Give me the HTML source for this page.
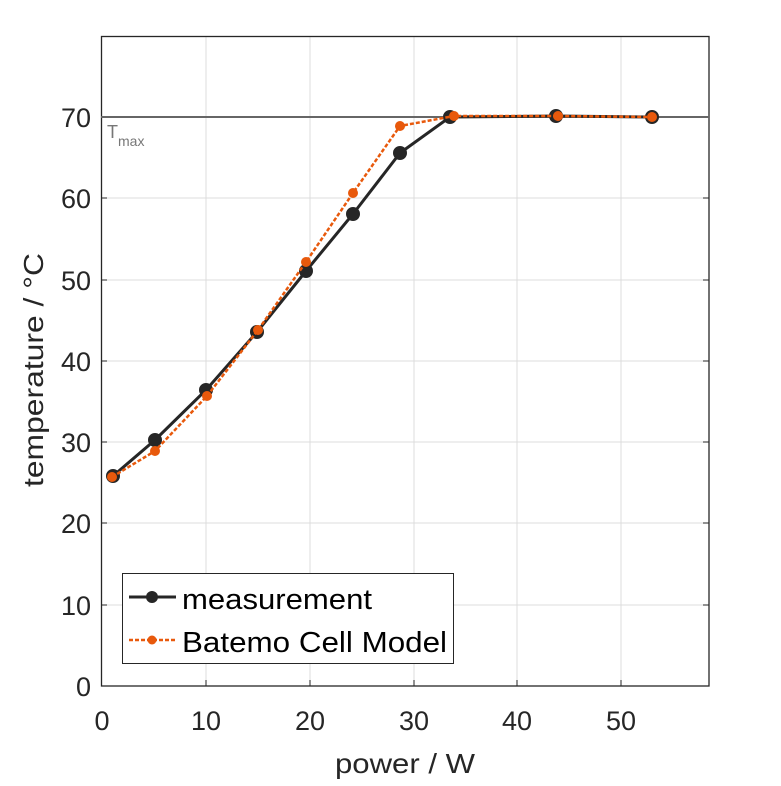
<!DOCTYPE html>
<html><head><style>html,body{margin:0;padding:0;background:#fff}</style></head>
<body>
<svg width="781" height="781" viewBox="0 0 781 781" xmlns="http://www.w3.org/2000/svg" font-family="'Liberation Sans', sans-serif">
<rect width="781" height="781" fill="#fff"/>
<g stroke="#dcdcdc" stroke-width="1">
<line x1="206" y1="36" x2="206" y2="686"/><line x1="310" y1="36" x2="310" y2="686"/>
<line x1="414" y1="36" x2="414" y2="686"/><line x1="517" y1="36" x2="517" y2="686"/>
<line x1="621" y1="36" x2="621" y2="686"/>
<line x1="101" y1="605" x2="709" y2="605"/><line x1="101" y1="523" x2="709" y2="523"/>
<line x1="101" y1="442" x2="709" y2="442"/><line x1="101" y1="361" x2="709" y2="361"/>
<line x1="101" y1="280" x2="709" y2="280"/><line x1="101" y1="198" x2="709" y2="198"/>
<line x1="101" y1="117" x2="709" y2="117"/>
</g>
<rect x="101.5" y="36.5" width="607.5" height="649.5" fill="none" stroke="#262626" stroke-width="1.3"/>
<g stroke="#262626" stroke-width="1">
<line x1="206" y1="686" x2="206" y2="680"/><line x1="310" y1="686" x2="310" y2="680"/><line x1="414" y1="686" x2="414" y2="680"/><line x1="517" y1="686" x2="517" y2="680"/><line x1="621" y1="686" x2="621" y2="680"/>
<line x1="101" y1="605" x2="107" y2="605"/><line x1="101" y1="523" x2="107" y2="523"/><line x1="101" y1="442" x2="107" y2="442"/><line x1="101" y1="361" x2="107" y2="361"/><line x1="101" y1="280" x2="107" y2="280"/><line x1="101" y1="198" x2="107" y2="198"/>
<line x1="709" y1="605" x2="703" y2="605"/><line x1="709" y1="523" x2="703" y2="523"/><line x1="709" y1="442" x2="703" y2="442"/><line x1="709" y1="361" x2="703" y2="361"/><line x1="709" y1="280" x2="703" y2="280"/><line x1="709" y1="198" x2="703" y2="198"/>
</g>
<line x1="101" y1="117" x2="709" y2="117" stroke="#666" stroke-width="2"/>
<text x="107" y="138" font-size="18" fill="#777">T</text><text x="118" y="146" font-size="14" fill="#777">max</text>
<g font-size="27" fill="#262626" text-anchor="middle">
<text x="102" y="730">0</text><text x="206" y="730">10</text><text x="310" y="730">20</text><text x="414" y="730">30</text><text x="517" y="730">40</text><text x="621" y="730">50</text>
</g>
<g font-size="27" fill="#262626" text-anchor="end">
<text x="91" y="696">0</text><text x="91" y="615">10</text><text x="91" y="533">20</text><text x="91" y="452">30</text><text x="91" y="371">40</text><text x="91" y="290">50</text><text x="91" y="208">60</text><text x="91" y="127">70</text>
</g>
<text x="335" y="773" font-size="28" fill="#262626" textLength="140" lengthAdjust="spacingAndGlyphs">power / W</text>
<text transform="translate(43,487) rotate(-90)" font-size="28" fill="#262626" textLength="234" lengthAdjust="spacingAndGlyphs">temperature / °C</text>
<g fill="#262626" stroke="#262626">
<polyline fill="none" stroke-width="3" points="113,476 155,440 206,390 257,332 306,271 353,214 400,153 450,117 556,116 652,117"/>
<circle cx="113" cy="476" r="6.5"/><circle cx="155" cy="440" r="6.5"/><circle cx="206" cy="390" r="6.5"/><circle cx="257" cy="332" r="6.5"/><circle cx="306" cy="271" r="6.5"/><circle cx="353" cy="214" r="6.5"/><circle cx="400" cy="153" r="6.5"/><circle cx="450" cy="117" r="6.5"/><circle cx="556" cy="116" r="6.5"/><circle cx="652" cy="117" r="6.5"/>
</g>
<g fill="#e8590c" stroke="#e8590c">
<polyline fill="none" stroke-width="2.5" stroke-dasharray="4,2" points="112,477 155,451 207,396 258,330 306,262 353,193 400,126 454,116 558,116 652,117"/>
<circle cx="112" cy="477" r="4.5"/><circle cx="155" cy="451" r="4.5"/><circle cx="207" cy="396" r="4.5"/><circle cx="258" cy="330" r="4.5"/><circle cx="306" cy="262" r="4.5"/><circle cx="353" cy="193" r="4.5"/><circle cx="400" cy="126" r="4.5"/><circle cx="454" cy="116" r="4.5"/><circle cx="558" cy="116" r="4.5"/><circle cx="652" cy="117" r="4.5"/>
</g>
<rect x="122.5" y="573.5" width="331" height="90" fill="#fff" stroke="#262626" stroke-width="1"/>
<line x1="129" y1="597" x2="176" y2="597" stroke="#262626" stroke-width="3"/>
<circle cx="152" cy="597" r="6" fill="#262626"/>
<line x1="129" y1="640" x2="176" y2="640" stroke="#e8590c" stroke-width="2.5" stroke-dasharray="4,2"/>
<circle cx="152" cy="640" r="4.5" fill="#e8590c"/>
<text x="182" y="609" font-size="29" fill="#000" textLength="190" lengthAdjust="spacingAndGlyphs">measurement</text>
<text x="182" y="652" font-size="29" fill="#000" textLength="265" lengthAdjust="spacingAndGlyphs">Batemo Cell Model</text>
</svg>
</body></html>
